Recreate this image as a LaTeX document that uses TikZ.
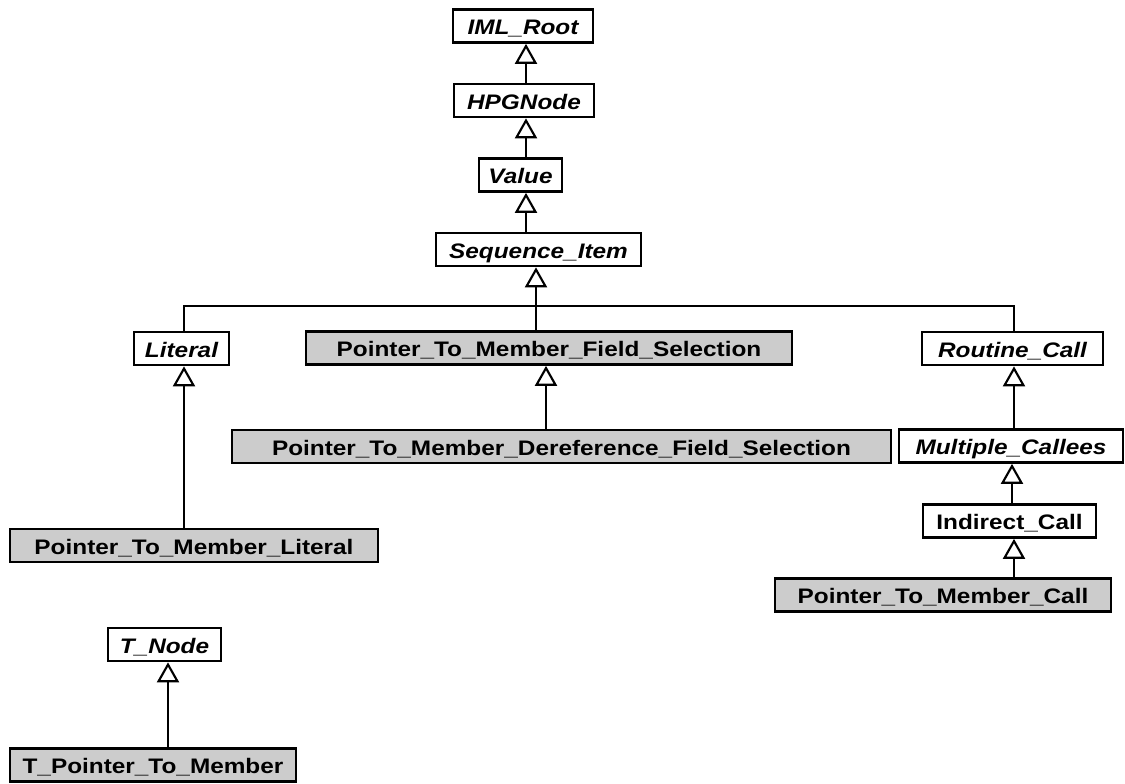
\documentclass[tikz,border=0pt]{standalone}
\usepackage{fontspec}
\setmainfont{Liberation Sans}[FakeStretch=1.16]
\usetikzlibrary{arrows.meta}
\begin{document}
\begin{tikzpicture}[x=0.75pt,y=-0.75pt,
  cls/.style={draw, line width=2pt, fill=white, inner sep=0pt,
    minimum height=24.75pt, minimum width={#1*0.75pt},
    font=\fontsize{15.75pt}{18pt}\selectfont\bfseries,
    text height=13.5pt, text depth=0.5pt},
  abstract/.style={font=\fontsize{15.75pt}{18pt}\selectfont\bfseries\itshape},
  concrete/.style={fill=black!20},
  conn/.style={line width=1.9pt},
  inh/.style={conn, -{Triangle[open, width=16.5pt, length=15pt, line width=1.6pt]}}]
\useasboundingbox (0,0) rectangle (1125,783);

% class boxes
\node[cls=140, abstract] (iml) at (523,26) {IML\_Root};
\node[cls=140, abstract] (hpg) at (524,100.5) {HPGNode};
\node[cls=83, abstract] (val) at (520.5,175) {Value};
\node[cls=205, abstract] (seq) at (538.5,249.5) {Sequence\_Item};
\node[cls=95, abstract] (lit) at (181.5,348.5) {Literal};
\node[cls=486, concrete] (ptmfs) at (549,348) {Pointer\_To\_Member\_Field\_Selection};
\node[cls=181, abstract] (rc) at (1012.5,348.5) {Routine\_Call};
\node[cls=659, concrete] (ptmdfs) at (561.5,446.5) {Pointer\_To\_Member\_Dereference\_Field\_Selection};
\node[cls=224, abstract] (mc) at (1011,446) {Multiple\_Callees};
\node[cls=368, concrete] (ptml) at (194,545.5) {Pointer\_To\_Member\_Literal};
\node[cls=173] (ic) at (1009.5,521) {Indirect\_Call};
\node[cls=336, concrete] (ptmc) at (943,595) {Pointer\_To\_Member\_Call};
\node[cls=113, abstract] (tn) at (164.5,644.5) {T\_Node};
\node[cls=286, concrete] (tptm) at (153,765) {T\_Pointer\_To\_Member};

% connector columns and the branch level
\coordinate (xa) at (526,0);
\coordinate (xs) at (536,0);
\coordinate (xf) at (546,0);
\coordinate (xl) at (184,0);
\coordinate (xr) at (1014,0);
\coordinate (xm) at (1012,0);
\coordinate (xt) at (168,0);
\coordinate (yb) at (0,306);

% inheritance connectors
\draw[inh] (hpg.north -| xa) -- (iml.south -| xa);
\draw[inh] (val.north -| xa) -- (hpg.south -| xa);
\draw[inh] (seq.north -| xa) -- (val.south -| xa);
\draw[inh] (ptmfs.north -| xs) -- (seq.south -| xs);
\draw[conn] (lit.north -| xl) -- (xl |- yb) -- (xr |- yb) -- (rc.north -| xr);
\draw[inh] (ptmdfs.north -| xf) -- (ptmfs.south -| xf);
\draw[inh] (ptml.north -| xl) -- (lit.south -| xl);
\draw[inh] (mc.north -| xr) -- (rc.south -| xr);
\draw[inh] (ic.north -| xm) -- (mc.south -| xm);
\draw[inh] (ptmc.north -| xr) -- (ic.south -| xr);
\draw[inh] (tptm.north -| xt) -- (tn.south -| xt);
\end{tikzpicture}
\end{document}
